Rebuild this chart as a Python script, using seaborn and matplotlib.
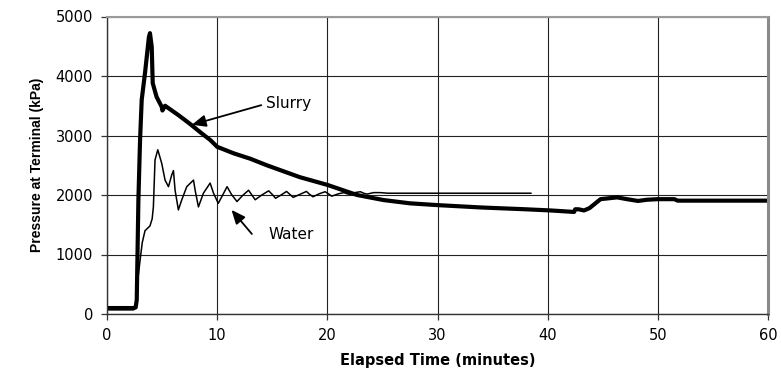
import matplotlib
matplotlib.use("Agg")
import matplotlib.pyplot as plt
import seaborn as sns
import pandas as pd

# ---- data ----
slurry_time = [0, 2.4, 2.6, 2.7, 2.85, 3.0, 3.15, 3.45, 3.8, 3.9, 4.06, 4.15, 4.5, 4.97, 5.03,
               5.27, 6.5, 7.5, 8.5, 9.4, 10.0, 11.5, 13.0, 14.5, 16.0, 17.5, 20.0, 22.7,
               25.1, 27.5, 30.0, 34.0, 38.0, 40.3, 42.0, 42.4, 42.5, 42.8, 43.3, 43.8,
               44.8, 46.3, 47.2, 48.2, 49.0, 50.0, 51.5, 51.8, 60.0]
slurry_kpa = [100, 100, 110, 235, 1920, 2920, 3600, 4050, 4650, 4720, 4490, 3880, 3650, 3480, 3420,
              3500, 3340, 3200, 3050, 2920, 2810, 2700, 2610, 2500, 2400, 2300, 2170, 2000,
              1915, 1860, 1830, 1790, 1760, 1740, 1720, 1715, 1760, 1760, 1740, 1780,
              1930, 1960, 1930, 1900, 1920, 1930, 1930, 1905, 1905]

water_time = [0, 2.4, 2.6, 2.75, 3.0, 3.2, 3.45, 3.9, 4.1, 4.21, 4.36, 4.61, 4.97, 5.27,
              5.58, 5.88, 6.03, 6.18, 6.48, 6.79, 7.24, 7.85, 8.0, 8.3, 8.75, 9.36, 9.67,
              10.1, 10.5, 10.9, 11.3, 11.8, 12.3, 12.85, 13.15, 13.45, 14.05, 14.67,
              15.0, 15.3, 15.8, 16.3, 16.6, 16.9, 17.5, 18.1, 18.4, 18.7, 19.25, 19.8,
              20.1, 20.4, 21.0, 21.5, 21.8, 22.1, 22.5, 23.0, 23.3, 23.6, 24.2, 24.8,
              25.5, 38.5]
water_kpa = [70, 70, 100, 500, 900, 1200, 1400, 1480, 1600, 1800, 2590, 2760, 2530, 2250,
             2140, 2340, 2410, 2080, 1750, 1920, 2140, 2250, 2080, 1800, 2030, 2200, 2030,
             1860, 2000, 2140, 2010, 1890, 1990, 2080, 2000, 1920, 2000, 2070,
             2010, 1945, 2000, 2060, 2010, 1960, 2010, 2060, 2010, 1970, 2020, 2055,
             2020, 1980, 2020, 2040, 2020, 2010, 2040, 2055, 2030, 2015, 2040, 2040,
             2030, 2030]

x_ticks = [0, 10, 20, 30, 40, 50, 60]
y_ticks = [0, 1000, 2000, 3000, 4000, 5000]
x_label = "Elapsed Time (minutes)"
y_label = "Pressure at Terminal (kPa)"

slurry = pd.DataFrame({"t": slurry_time, "p": slurry_kpa})
water = pd.DataFrame({"t": water_time, "p": water_kpa})

sns.set_theme(style="white")
plt.rcParams["font.family"] = ["DejaVu Sans"]
plt.rcParams["text.color"] = "black"
plt.rcParams["axes.labelcolor"] = "black"

fig = plt.figure(figsize=(7.81, 3.80), dpi=100)
ax = fig.add_axes([107 / 781, 1 - 314 / 380, (768 - 107) / 781, (314 - 16.5) / 380])

sns.lineplot(data=water, x="t", y="p", ax=ax, color="black", linewidth=1.1,
             sort=False, estimator=None)
sns.lineplot(data=slurry, x="t", y="p", ax=ax, color="black", linewidth=3.0,
             sort=False, estimator=None)

ax.set_xlim(0, 60)
ax.set_ylim(0, 5000)
ax.set_xticks(x_ticks)
ax.set_yticks(y_ticks)
ax.grid(True, color="#222222", linewidth=0.8)
ax.set_axisbelow(True)

for s in ["left", "bottom"]:
    ax.spines[s].set_color("#333333")
    ax.spines[s].set_linewidth(1.0)
ax.spines["top"].set_color("#9a9a9a")
ax.spines["top"].set_linewidth(1.5)
ax.spines["right"].set_color("#8a8a8a")
ax.spines["right"].set_linewidth(2.2)

ax.tick_params(axis="both", direction="out", length=4, width=0.9, color="#333333",
               labelsize=10.5, labelcolor="black", pad=6, bottom=True, left=True)

ax.set_xlabel(x_label, fontsize=10.5, fontweight="bold", labelpad=7, color="black")
ax.set_ylabel(y_label, fontsize=10, fontweight="bold", family="Liberation Sans",
              labelpad=8, color="black")

arrow = dict(arrowstyle="-|>,head_length=0.7,head_width=0.3", color="black", lw=1.3,
             shrinkA=0, shrinkB=0)
ax.annotate("", xy=(7.7, 3180), xytext=(14.0, 3510), arrowprops=arrow)
ax.text(14.45, 3540, "Slurry", fontsize=11, va="center", ha="left", color="black")
ax.annotate("", xy=(11.3, 1750), xytext=(13.15, 1345), arrowprops=arrow)
ax.text(14.67, 1333, "Water", fontsize=11, va="center", ha="left", color="black")

fig.savefig("out.png", dpi=100, facecolor="white")
